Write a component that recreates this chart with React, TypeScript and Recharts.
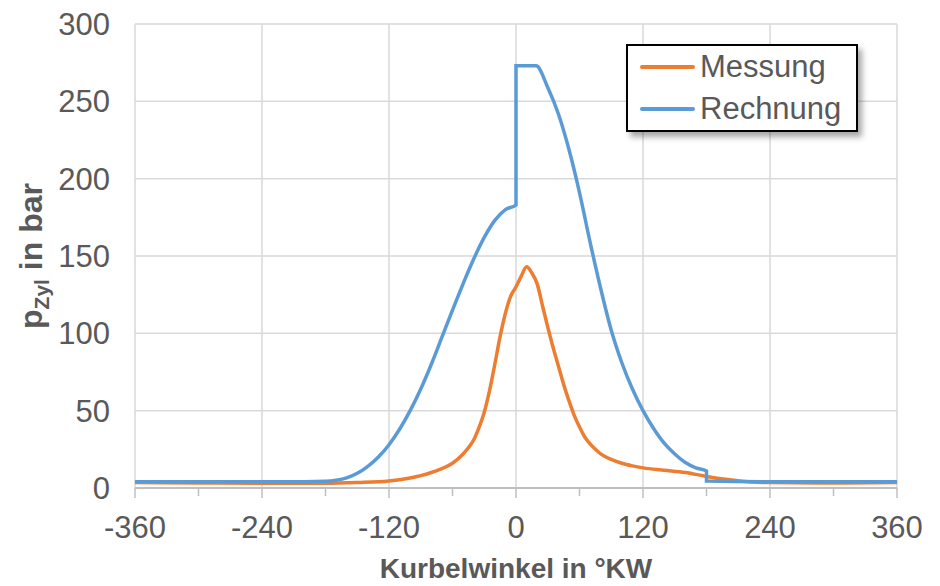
import React from "react";
import {
  LineChart,
  Line,
  XAxis,
  YAxis,
  CartesianGrid,
  Legend,
} from "recharts";

const FONT = "'Liberation Sans', Arial, sans-serif";
const TEXT = "#595959";

// Messung (orange)
const messungAngle = [
  -360, -300, -240, -200, -180, -150, -120, -100, -90, -80, -70, -60, -50, -45, -40, -35, -30,
  -25, -20, -15, -10, -5, 0, 5, 10, 15, 20, 25, 30, 35, 40, 45, 50, 55, 60, 65, 70, 75, 80, 90,
  100, 110, 120, 140, 160, 180, 200, 220, 240, 300, 360,
];
const messungP = [
  3.5, 3.3, 3.0, 3.0, 3.0, 3.5, 4.5, 6.5, 8, 10, 12.5, 16, 22, 26, 31, 39, 49,
  63, 80, 98, 113, 124, 130, 137, 143, 139, 132, 118, 104, 91, 79, 67, 56.5, 47, 39.5, 33, 28.5, 25,
  22, 18.5, 16, 14.3, 13, 11.5, 10, 7.5, 5.5, 4, 3.5, 3.2, 3.5,
];

// Rechnung (blue) - steps at 0 and 180 deg
const rechnungAngle = [
  -360, -240, -200, -180, -170, -160, -150, -140, -130, -120, -110, -100, -90, -80, -70, -60,
  -50, -40, -30, -20, -10, 0, 0, 19, 30, 40, 50, 60, 70, 80, 90, 100, 110, 120, 130, 140,
  150, 160, 170, 180, 180, 240, 360,
];
const rechnungP = [
  4, 4, 4, 4.3, 5, 6.5, 9.5, 14, 20, 28, 38, 50, 64, 80, 97.5, 115,
  132, 148, 162, 173, 180, 183, 273, 273, 259, 242, 219, 191, 159, 129, 102, 81, 64, 50, 38.5, 29,
  22, 16.5, 13, 11, 4.5, 4, 4,
];

const xTicks = [-360, -300, -240, -180, -120, -60, 0, 60, 120, 180, 240, 300, 360];
const xMajor = [-360, -240, -120, 0, 120, 240, 360];
const yTicks = [0, 50, 100, 150, 200, 250, 300];

const messungData = messungAngle.map((a, i) => ({ angle: a, p: messungP[i] }));
const rechnungData = rechnungAngle.map((a, i) => ({ angle: a, p: rechnungP[i] }));

const XTick = (props: any) => {
  const { x, y, payload } = props;
  const major = xMajor.includes(payload.value);
  return (
    <g>
      <line x1={x} x2={x} y1={y} y2={y + (major ? 10 : 8)} stroke="#bfbfbf" strokeWidth={1.5} />
      {major && (
        <text x={x} y={y + 50} textAnchor="middle" fontSize={31} fill={TEXT} fontFamily={FONT}>
          {payload.value}
        </text>
      )}
    </g>
  );
};

const XTitle = ({ viewBox }: any) => (
  <text
    x={viewBox.x + viewBox.width / 2}
    y={viewBox.y + viewBox.height - 8}
    textAnchor="middle"
    fontSize={28}
    fontWeight="bold"
    fill={TEXT}
    fontFamily={FONT}
  >
    Kurbelwinkel in °KW
  </text>
);

const YTitle = ({ viewBox }: any) => {
  const cx = viewBox.x + 42;
  const cy = viewBox.y + viewBox.height / 2;
  return (
    <text
      x={cx}
      y={cy}
      transform={`rotate(-90 ${cx} ${cy})`}
      textAnchor="middle"
      fontSize={32}
      fontWeight="bold"
      fill={TEXT}
      fontFamily={FONT}
    >
      p<tspan dy={7} fontSize={21}>Zyl</tspan>
      <tspan dy={-7}> in bar</tspan>
    </text>
  );
};

const LegendBox = (props: any) => {
  const { payload } = props;
  return (
    <div
      style={{
        width: 232,
        boxSizing: "border-box",
        border: "2px solid #000",
        background: "#fff",
        padding: "0 12px",
        boxShadow: "4px 5px 6px rgba(0,0,0,0.35)",
        fontFamily: FONT,
      }}
    >
      {(payload || []).map((e: any) => (
        <div key={e.value} style={{ display: "flex", alignItems: "center", height: 42 }}>
          <div style={{ width: 55, height: 4, borderRadius: 2, background: e.color, marginRight: 5 }} />
          <span style={{ fontSize: 31, color: TEXT, lineHeight: "42px" }}>{e.value}</span>
        </div>
      ))}
    </div>
  );
};

export default function App() {
  return (
    <div style={{ position: "absolute", left: 0, top: 0, background: "#fff" }}>
      <LineChart width={940} height={586} margin={{ top: 24, right: 43, left: 0, bottom: 0 }}>
        <CartesianGrid
          stroke="#d9d9d9"
          strokeWidth={1.5}
          verticalValues={xMajor}
          horizontalValues={yTicks}
        />
        <XAxis
          type="number"
          dataKey="angle"
          domain={[-360, 360]}
          ticks={xTicks}
          interval={0}
          height={98}
          tickSize={0}
          tickMargin={0}
          tickLine={false}
          axisLine={{ stroke: "#bfbfbf", strokeWidth: 2 }}
          tick={<XTick />}
          allowDuplicatedCategory={false}
          label={<XTitle />}
        />
        <YAxis
          type="number"
          domain={[0, 300]}
          ticks={yTicks}
          interval={0}
          width={135}
          tickSize={0}
          tickMargin={25}
          axisLine={false}
          tickLine={false}
          tick={{ fontSize: 31, fill: TEXT, fontFamily: FONT }}
          label={<YTitle />}
        />
        <Legend
          layout="horizontal"
          verticalAlign="middle"
          align="center"
          content={<LegendBox />}
          wrapperStyle={{ left: 626, top: 44, width: 232, height: "auto" }}
        />
        <Line
          data={messungData}
          dataKey="p"
          name="Messung"
          type="monotone"
          stroke="#ED7D31"
          strokeWidth={3.5}
          dot={false}
          isAnimationActive={false}
        />
        <Line
          data={rechnungData}
          dataKey="p"
          name="Rechnung"
          type="monotone"
          stroke="#5B9BD5"
          strokeWidth={3.5}
          dot={false}
          isAnimationActive={false}
        />
      </LineChart>
    </div>
  );
}
